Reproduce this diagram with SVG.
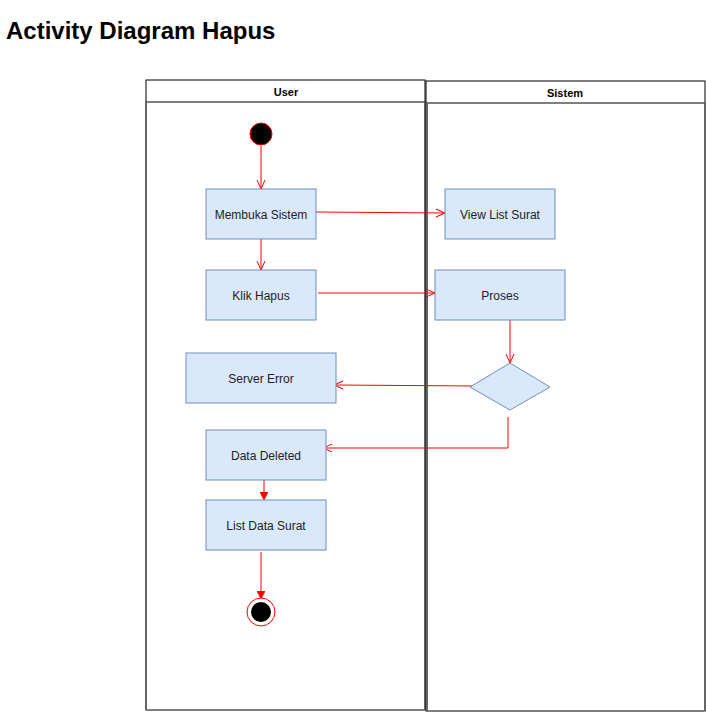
<svg xmlns="http://www.w3.org/2000/svg" width="706" height="712" viewBox="0 0 706 712">
<defs>
<style>
.lane{fill:#fff;stroke:#000;stroke-width:1}
.side{stroke:#666;stroke-width:2;fill:none}
.hdr{font-family:"Liberation Sans",Arial,sans-serif;font-size:11px;font-weight:bold;fill:#000;text-anchor:middle}
.box{fill:#dae8fc;stroke:#6c8ebf;stroke-width:1}
.lbl{font-family:"Liberation Sans",Arial,sans-serif;font-size:12px;fill:#222;text-anchor:middle}
.edge{stroke:#ff0000;stroke-width:1;fill:none}
</style>
<marker id="open" viewBox="0 0 10 10" refX="10" refY="5" markerWidth="10" markerHeight="10" markerUnits="userSpaceOnUse" orient="auto">
<path d="M1,1 L10,5 L1,9" fill="none" stroke="#ff0000" stroke-width="1"/>
</marker>
<marker id="block" viewBox="0 0 10 10" refX="10" refY="5" markerWidth="8" markerHeight="8" markerUnits="userSpaceOnUse" orient="auto">
<path d="M0,0 L10,5 L0,10 Z" fill="#ff0000" stroke="#ff0000" stroke-width="1"/>
</marker>
</defs>
<rect width="706" height="712" fill="#fff"/>
<text x="6" y="39" font-family="Liberation Sans,Arial,sans-serif" font-size="24" font-weight="bold" fill="#000">Activity Diagram Hapus</text>

<g id="lane-user">
<rect class="lane" x="146" y="80" width="279" height="630"/>
<line x1="146" y1="102" x2="425" y2="102" stroke="#000"/>
<line class="side" x1="146" y1="102" x2="146" y2="710"/>
<line class="side" x1="425" y1="102" x2="425" y2="710"/>
<text class="hdr" x="286" y="96">User</text>
</g>
<g id="lane-sistem">
<rect class="lane" x="426" y="81" width="279" height="630"/>
<line x1="426" y1="103" x2="705" y2="103" stroke="#000"/>
<line class="side" x1="427" y1="103" x2="427" y2="711"/>
<line class="side" x1="705" y1="103" x2="705" y2="711"/>
<text class="hdr" x="565" y="97">Sistem</text>
</g>

<g id="connectors">
<path class="edge" d="M261,146 L261,189" marker-end="url(#open)"/>
<path class="edge" d="M316,212 L445,213" marker-end="url(#open)"/>
<path class="edge" d="M261,239 L261,270" marker-end="url(#open)"/>
<path class="edge" d="M318,293 L435,293" marker-end="url(#open)"/>
<path class="edge" d="M510,320 L510,363" marker-end="url(#open)"/>
<path class="edge" d="M479,386 L334,385" marker-end="url(#open)"/>
<path class="edge" d="M508,417 L508,448 L323,448" marker-end="url(#open)"/>
<path class="edge" d="M264,480 L264,500" marker-end="url(#block)"/>
<path class="edge" d="M261,552 L261,599" marker-end="url(#block)"/>
</g>

<g id="start"><circle cx="261" cy="134" r="11" fill="#000" stroke="#ff0000" stroke-width="1"/></g>
<g id="membuka-sistem"><rect class="box" x="206" y="189" width="110" height="50"/><text class="lbl" x="261" y="219">Membuka Sistem</text></g>
<g id="view-list-surat"><rect class="box" x="445" y="189" width="110" height="50"/><text class="lbl" x="500" y="219">View List Surat</text></g>
<g id="klik-hapus"><rect class="box" x="206" y="270" width="110" height="50"/><text class="lbl" x="261" y="300">Klik Hapus</text></g>
<g id="proses"><rect class="box" x="435" y="270" width="130" height="50"/><text class="lbl" x="500" y="300">Proses</text></g>
<g id="decision"><polygon class="box" points="510,363 550,387 510,410 470,387"/></g>
<g id="server-error"><rect class="box" x="186" y="353" width="150" height="50"/><text class="lbl" x="261" y="383">Server Error</text></g>
<g id="data-deleted"><rect class="box" x="206" y="430" width="120" height="50"/><text class="lbl" x="266" y="460">Data Deleted</text></g>
<g id="list-data-surat"><rect class="box" x="206" y="500" width="120" height="50"/><text class="lbl" x="266" y="530">List Data Surat</text></g>
<g id="end"><circle cx="261" cy="612" r="14" fill="#fff" stroke="#ff0000" stroke-width="1"/><circle cx="261" cy="612" r="10" fill="#000"/></g>
</svg>
